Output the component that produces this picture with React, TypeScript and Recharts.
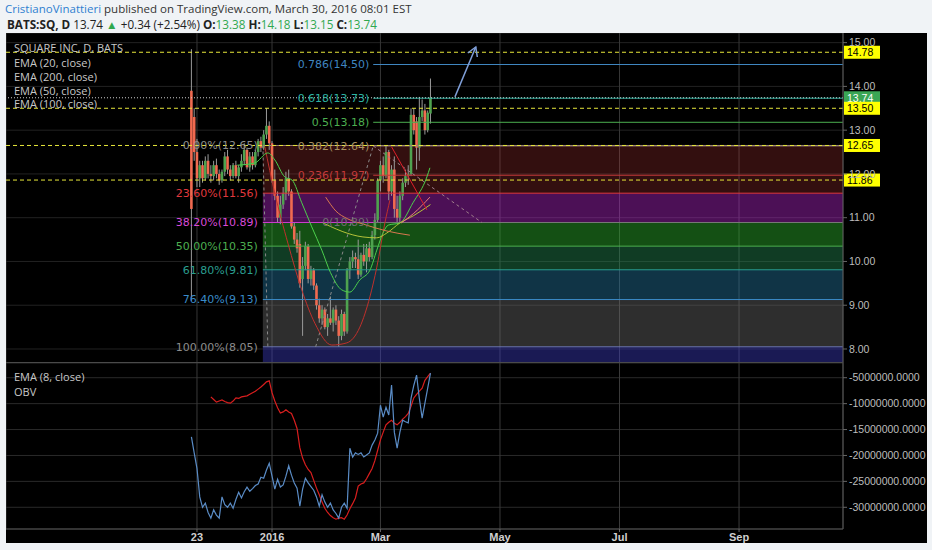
import React from 'react';
import { ComposedChart, Bar, Line, XAxis, YAxis, CartesianGrid, ReferenceLine, ReferenceArea } from 'recharts';

// x axis runs in trading days, 0 = first bar (Nov 19 2015); future days are kept empty
const X_MIN = -66.7;
const X_MAX = 234.4;
const dateTicks = [2, 29, 68, 111, 154, 197];
const dateLabels = ['23', '2016', 'Mar', 'May', 'Jul', 'Sep'];

const priceTicks = [8, 9, 10, 11, 12, 13, 14, 15];
const obvTicks = [-5e6, -10e6, -15e6, -20e6, -25e6, -30e6];

// open, high, low, close
const candles = [
  [13.9, 14.85, 9.1, 11.2], [13.3, 13.5, 12.3, 12.5], [12.5, 12.8, 11.7, 11.9], [11.9, 12.3, 11.7, 12.2],
  [12.2, 12.3, 11.8, 11.9], [11.9, 12.4, 11.85, 12.3], [12.3, 12.45, 11.9, 12.0], [12.0, 12.2, 11.8, 11.95],
  [11.95, 12.3, 11.85, 12.2], [12.2, 12.35, 11.9, 12.0], [12.0, 12.1, 11.75, 11.85], [11.85, 12.1, 11.8, 12.05],
  [12.05, 12.5, 11.95, 12.4], [12.4, 12.55, 12.0, 12.1], [12.1, 12.2, 11.85, 11.95], [11.95, 12.25, 11.9, 12.2],
  [12.2, 12.3, 11.9, 11.95], [11.95, 12.2, 11.8, 12.15], [12.15, 12.45, 12.05, 12.3], [12.3, 12.7, 12.2, 12.55],
  [12.55, 12.6, 12.1, 12.15], [12.15, 12.5, 12.05, 12.4], [12.4, 12.5, 12.1, 12.2], [12.2, 12.55, 12.15, 12.5],
  [12.5, 12.8, 12.4, 12.75], [12.75, 12.85, 12.5, 12.6], [12.6, 13.0, 12.55, 12.9], [12.9, 13.5, 12.8, 13.1],
  [13.1, 13.2, 12.55, 12.7], [12.7, 12.75, 11.8, 11.85], [11.85, 12.1, 11.4, 11.5], [11.5, 11.6, 10.9, 11.0],
  [11.0, 11.5, 10.85, 11.3], [11.3, 11.7, 11.2, 11.55], [11.55, 12.05, 11.4, 11.9], [11.9, 12.1, 11.5, 11.6],
  [11.6, 11.65, 10.75, 10.8], [10.8, 10.9, 10.4, 10.5], [10.5, 10.65, 10.2, 10.3], [10.4, 10.7, 9.4, 9.5],
  [9.6, 10.1, 8.3, 9.9], [9.9, 10.45, 9.8, 10.35], [10.35, 10.4, 9.5, 9.6], [9.6, 9.9, 9.45, 9.8],
  [9.8, 9.85, 9.35, 9.45], [9.45, 9.5, 8.9, 9.0], [9.0, 9.15, 8.6, 8.7], [8.7, 9.0, 8.55, 8.9],
  [8.9, 8.95, 8.45, 8.5], [8.5, 8.8, 8.3, 8.7], [8.7, 9.2, 8.55, 8.6], [8.6, 8.95, 8.4, 8.9],
  [8.9, 9.0, 8.55, 8.65], [8.65, 8.75, 8.05, 8.3], [8.3, 8.9, 8.2, 8.8], [8.8, 8.85, 8.3, 8.4],
  [8.4, 9.85, 8.35, 9.8], [9.8, 10.1, 9.6, 10.0], [10.0, 10.25, 9.85, 10.1], [10.1, 10.2, 9.85, 10.05],
  [10.05, 10.5, 9.6, 9.7], [9.7, 10.2, 9.65, 10.15], [10.15, 10.4, 9.9, 10.0], [10.0, 10.4, 9.75, 10.3],
  [10.3, 10.45, 10.0, 10.1], [10.1, 10.7, 10.05, 10.6], [10.6, 11.1, 10.5, 10.95], [10.95, 11.9, 10.9, 11.85],
  [11.85, 12.3, 11.6, 12.2], [12.2, 12.4, 11.8, 11.95], [11.95, 12.65, 11.9, 12.5], [12.5, 12.55, 11.4, 11.6],
  [11.6, 12.2, 11.5, 12.1], [12.1, 12.4, 11.0, 11.2], [11.2, 11.5, 10.9, 11.0], [11.0, 11.6, 10.9, 11.5],
  [11.5, 11.9, 11.4, 11.8], [11.8, 12.1, 11.7, 11.95], [11.95, 12.2, 11.75, 12.0], [12.0, 13.5, 11.95, 13.35],
  [13.35, 13.5, 12.9, 13.0], [13.2, 13.3, 12.1, 12.6], [12.6, 13.76, 12.3, 13.3], [13.3, 13.7, 13.2, 13.45],
  [13.45, 13.6, 12.9, 13.0], [13.0, 13.45, 12.95, 13.4], [13.38, 14.18, 13.15, 13.74],
];

// [trading day, value]
const ema20 = [
  [16.5, 12.2], [22.8, 12.25], [27.5, 12.48], [30, 12.32], [33.6, 11.93], [36.2, 11.86], [39.7, 11.34],
  [43.3, 10.79], [46.9, 10.26], [50, 9.75], [54.1, 9.35], [57, 9.3], [60.6, 9.58], [64.2, 9.8],
  [66.7, 10.26], [68.9, 10.65], [70.8, 10.83], [75, 10.88], [79.7, 11.34], [84.7, 11.93], [85.8, 12.14],
];
const ema50 = [
  [47.3, 10.88], [50, 10.8], [54.5, 10.68], [61.7, 10.56], [66.7, 10.54], [70.3, 10.65], [75, 10.88],
  [80, 11.05], [86, 11.3],
];
const ema100 = [[75.5, 10.88], [80, 11.1], [85.8, 11.47]];
const salmonLine = [[48.3, 11.47], [52, 11.15], [56, 10.98], [62, 10.85], [70, 10.7], [78.6, 10.6]];
const redTrend = [[72, 12.62], [84.7, 11.18]];
const cupCurve = [
  [26.4, 12.62], [30, 11.56], [34.7, 10.42], [39.7, 9.35], [44.4, 8.59], [50.5, 8.09], [55.9, 8.14],
  [60.6, 8.5], [64.2, 9.19], [66.7, 9.87], [69.6, 10.88], [71.4, 11.4],
];
const retraceTrend = [[25.7, 12.65], [27.5, 8.05]];
const extTrendAB = [[44.7, 8.05], [65.4, 12.64]];
const extTrendBC = [[65.4, 12.64], [104.5, 10.89]];
const arrowPath = [[94.8, 13.76], [102.3, 14.9]];

const RETRACE_START = 25.7;
const retraceLevels = [12.65, 11.56, 10.89, 10.35, 9.81, 9.13, 8.05];
const retraceNames = ['0.00%', '23.60%', '38.20%', '50.00%', '61.80%', '76.40%', '100.00%'];
const retraceLine = ['#9c7b7b', '#e0393e', '#c83ec8', '#4caf50', '#2a9d8f', '#3a8bc8', '#6f79b0'];
const retraceText = ['#8c8c8c', '#e0393e', '#d94ad9', '#4caf50', '#2a9d8f', '#3a8bc8', '#8c8c8c'];
const retraceFill = [
  'rgba(190,55,55,0.27)', 'rgba(190,40,215,0.4)', 'rgba(50,200,50,0.4)', 'rgba(40,150,90,0.4)',
  'rgba(40,130,175,0.4)', 'rgba(120,120,120,0.38)', 'rgba(65,65,210,0.4)',
];

const EXT_START = 65.4;
const extLevels = [10.89, 11.97, 12.64, 13.18, 13.73, 14.5];
const extNames = ['0', '0.236', '0.382', '0.5', '0.618', '0.786'];
const extLine = ['#777777', '#c23a3a', '#9b8a7b', '#4caf50', '#2fb3a3', '#3f86c0'];
const extText = ['#6f6f6f', '#c23a3a', '#a89060', '#4caf50', '#2fb3a3', '#3f86c0'];

const markedLevels = [14.78, 13.5, 12.65, 11.86];
const lastClose = 13.74;

// millions
const obv = [
  -16.4, -19.5, -22.5, -28.0, -30.0, -29.2, -31.0, -32.1, -30.5, -31.5, -32.1, -28.0, -29.5, -30.0, -29.2,
  -30.2, -28.5, -27.1, -28.2, -27.0, -26.1, -26.9, -26.4, -25.8, -25.5, -24.2, -24.4, -22.8, -21.5, -24.0,
  -26.5, -24.6, -26.1, -25.7, -24.0, -22.0, -23.8, -25.3, -26.3, -29.8, -26.5, -24.4, -25.3, -26.0, -26.7,
  -28.0, -29.8, -27.6, -29.0, -30.0, -29.2, -30.5, -31.2, -32.1, -30.0, -29.2, -30.2, -18.6, -20.3, -19.5,
  -19.8, -19.5, -20.3, -19.9, -19.5, -18.0, -17.0, -15.7, -10.3, -12.6, -10.7, -12.2, -6.4, -15.5, -18.6,
  -15.5, -13.2, -13.5, -13.7, -9.0, -6.5, -4.5, -9.0, -12.8, -9.9, -7.0, -4.1,
];
const OBV_EMA_START = 7;
const obvEma = [
  -8.7, -9.2, -9.7, -9.5, -9.3, -9.6, -9.8, -9.9, -9.5, -8.9, -9.0, -8.7, -8.6, -8.5, -8.2, -7.9, -7.6,
  -7.2, -6.8, -6.3, -5.8, -5.6, -7.9, -9.5, -10.8, -11.8, -11.6, -11.2, -11.6, -11.9, -13.2, -14.8, -18.5,
  -20.5, -21.8, -22.7, -23.3, -24.8, -26.3, -27.6, -29.0, -30.2, -31.0, -31.6, -32.0, -32.3, -32.1, -32.0,
  -32.3, -31.5, -30.3, -29.3, -28.2, -25.9, -25.5, -25.3, -24.5, -23.5, -22.5, -21.0, -19.0, -17.0, -15.5,
  -14.1, -13.6, -13.2, -13.8, -14.1, -13.6, -13.0, -12.5, -11.9, -10.5, -8.9, -8.2, -7.6, -7.0, -5.5,
  -4.8, -4.1,
];

const candleRows = candles.map(([o, h, l, c], i) => ({ i, o, h, l, c, range: [l, h] }));
const pts = (arr: number[][]) => arr.map(([i, v]) => ({ i, v }));
const obvRows = obv.map((v, i) => ({
  i,
  obv: v * 1e6,
  ema: i >= OBV_EMA_START && obvEma[i - OBV_EMA_START] != null ? obvEma[i - OBV_EMA_START] * 1e6 : null,
}));

const AXIS_FONT = '"Liberation Sans", Arial, sans-serif';
const FIB_FONT = '"DejaVu Sans", sans-serif';

function Candle(props: any) {
  const { x, y, width, height, payload } = props;
  const { o, h, l, c } = payload;
  if (h === l || height == null) return null;
  const top = Math.min(y, y + height);
  const bottom = Math.max(y, y + height);
  const k = (bottom - top) / (h - l);
  const cx = x + width / 2;
  const yo = top + (h - o) * k;
  const yc = top + (h - c) * k;
  const up = c >= o;
  return (
    <g>
      <line x1={cx} x2={cx} y1={top} y2={bottom} stroke="#9a9a9a" strokeWidth={1} />
      <rect x={cx - 1.3} y={Math.min(yo, yc)} width={2.6} height={Math.max(1, Math.abs(yc - yo))} fill={up ? '#4fa24f' : '#f06a50'} />
    </g>
  );
}

function PriceTag(props: any) {
  const { viewBox, text, bg, fg } = props;
  if (!viewBox) return null;
  const x = viewBox.x + viewBox.width;
  const y = viewBox.y;
  return (
    <g>
      <rect x={x + 1} y={y - 6.5} width={36} height={13} fill={bg} />
      <text x={x + 4} y={y + 4} fill={fg} fontSize={10.5} fontFamily={AXIS_FONT}>{text}</text>
    </g>
  );
}

function ArrowHead(props: any) {
  const { cx, cy, index } = props;
  if (index !== 1) return <g key={`a${index}`} />;
  return <path key="head" d={`M${cx - 8},${cy + 6} L${cx},${cy} L${cx + 1.5},${cy + 10}`} stroke="#7f9fd8" strokeWidth={1.5} fill="none" />;
}

function PricePane() {
  return (
    <ComposedChart width={921} height={330} data={candleRows} margin={{ top: 0, right: 0, bottom: 0, left: 0 }}>
      <CartesianGrid stroke="#222" vertical={false} />
      <CartesianGrid stroke="#363636" horizontal={false} />
      <XAxis dataKey="i" type="number" domain={[X_MIN, X_MAX]} allowDataOverflow ticks={dateTicks} hide />
      <YAxis
        orientation="right"
        width={84}
        domain={[7.68, 15.22]}
        allowDataOverflow
        ticks={priceTicks}
        tickFormatter={(v: number) => v.toFixed(2)}
        tick={{ fill: '#bdbdbd', fontSize: 10.5, fontFamily: AXIS_FONT, textAnchor: 'start' }}
        axisLine={{ stroke: '#555' }}
        tickLine={{ stroke: '#666' }}
        tickSize={4}
        tickMargin={2}
      />
      {retraceLevels.map((lvl, k) => (
        <ReferenceArea
          key={`ra${k}`}
          x1={RETRACE_START}
          x2={X_MAX}
          y1={lvl}
          y2={k + 1 < retraceLevels.length ? retraceLevels[k + 1] : 7.68}
          fill={retraceFill[k]}
          fillOpacity={1}
          stroke="none"
        />
      ))}
      {retraceLevels.map((lvl, k) => (
        <ReferenceLine
          key={`rl${k}`}
          segment={[{ x: RETRACE_START, y: lvl }, { x: X_MAX, y: lvl }]}
          stroke={retraceLine[k]}
          label={{ value: `${retraceNames[k]}(${lvl.toFixed(2)})`, position: 'left', fill: retraceText[k], fontSize: 11, fontFamily: FIB_FONT, offset: 5 }}
        />
      ))}
      {extLevels.map((lvl, k) => (
        <ReferenceLine
          key={`el${k}`}
          segment={[{ x: EXT_START, y: lvl }, { x: X_MAX, y: lvl }]}
          stroke={extLine[k]}
          label={{ value: `${extNames[k]}(${lvl.toFixed(2)})`, position: 'left', fill: extText[k], fontSize: 11, fontFamily: FIB_FONT, offset: 4 }}
        />
      ))}
      <Line data={pts(retraceTrend)} dataKey="v" stroke="#8a8a8a" strokeDasharray="3 3" dot={false} isAnimationActive={false} />
      <Line data={pts(extTrendAB)} dataKey="v" stroke="#8a8a8a" strokeDasharray="3 3" dot={false} isAnimationActive={false} />
      <Line data={pts(extTrendBC)} dataKey="v" stroke="#a07f8c" strokeDasharray="3 3" dot={false} isAnimationActive={false} />
      <Line data={pts(cupCurve)} dataKey="v" type="monotone" stroke="#c0302c" dot={false} isAnimationActive={false} />
      <Bar dataKey="range" barSize={3} isAnimationActive={false} shape={(p: any) => <Candle {...p} />} />
      <Line data={pts(ema20)} dataKey="v" type="monotone" stroke="#4cd04c" dot={false} isAnimationActive={false} />
      <Line data={pts(ema50)} dataKey="v" type="monotone" stroke="#b5c23a" dot={false} isAnimationActive={false} />
      <Line data={pts(ema100)} dataKey="v" type="monotone" stroke="#e8807a" dot={false} isAnimationActive={false} />
      <Line data={pts(salmonLine)} dataKey="v" type="monotone" stroke="#d9784f" dot={false} isAnimationActive={false} />
      <Line data={pts(redTrend)} dataKey="v" stroke="#e0202a" dot={false} isAnimationActive={false} />
      <Line data={pts(arrowPath)} dataKey="v" stroke="#7f9fd8" strokeWidth={1.5} dot={(p: any) => <ArrowHead {...p} />} isAnimationActive={false} />
      <ReferenceLine
        y={lastClose}
        stroke="#cfcfcf"
        strokeDasharray="1 2"
        label={<PriceTag text={lastClose.toFixed(2)} bg="#3aa655" fg="#ffffff" />}
      />
      {markedLevels.map((lvl) => (
        <ReferenceLine
          key={`m${lvl}`}
          y={lvl}
          stroke="#e6e63a"
          strokeDasharray="4 3"
          label={<PriceTag text={lvl.toFixed(2)} bg="#ffff00" fg="#000000" />}
        />
      ))}
    </ComposedChart>
  );
}

function ObvPane() {
  return (
    <ComposedChart width={921} height={180} data={obvRows} margin={{ top: 0, right: 0, bottom: 0, left: 0 }}>
      <CartesianGrid stroke="#2a2a2a" vertical={false} />
      <CartesianGrid stroke="#3a3a3a" horizontal={false} />
      <XAxis
        dataKey="i"
        type="number"
        domain={[X_MIN, X_MAX]}
        allowDataOverflow
        ticks={dateTicks}
        height={14}
        tickFormatter={(v: number) => dateLabels[dateTicks.indexOf(v)] ?? ''}
        tick={{ fill: '#cfcfcf', fontSize: 11, fontWeight: 'bold', fontFamily: AXIS_FONT }}
        axisLine={{ stroke: '#555' }}
        tickLine={{ stroke: '#666' }}
        tickSize={3}
        tickMargin={1}
      />
      <YAxis
        orientation="right"
        width={84}
        domain={[-34.19e6, -2.16e6]}
        allowDataOverflow
        ticks={obvTicks}
        tickFormatter={(v: number) => v.toFixed(4)}
        tick={{ fill: '#bdbdbd', fontSize: 10.5, fontFamily: AXIS_FONT, textAnchor: 'start' }}
        axisLine={{ stroke: '#555' }}
        tickLine={{ stroke: '#666' }}
        tickSize={4}
        tickMargin={2}
      />
      <Line dataKey="ema" stroke="#d81e1e" strokeWidth={1.2} dot={false} connectNulls isAnimationActive={false} />
      <Line dataKey="obv" stroke="#5a8cc6" strokeWidth={1.2} dot={false} isAnimationActive={false} />
    </ComposedChart>
  );
}

const legendStyle: React.CSSProperties = {
  position: 'absolute',
  left: 14,
  fontSize: 11,
  lineHeight: '14px',
  color: '#c8c8c8',
  fontFamily: '"Open Sans", sans-serif',
  whiteSpace: 'nowrap',
  pointerEvents: 'none',
};

export default function App() {
  const green = '#2fa84f';
  return (
    <div style={{ position: 'fixed', left: 0, top: 0, width: 932, height: 550, background: '#f0f3f6', overflow: 'hidden', fontFamily: '"Open Sans", sans-serif' }}>
      <div style={{ position: 'absolute', left: 5, top: 1, fontSize: 11.5, lineHeight: '16px', color: '#333', whiteSpace: 'nowrap' }}>
        <span style={{ color: '#2f7fd0' }}>CristianoVinattieri</span> published on TradingView.com, March 30, 2016 08:01 EST
      </div>
      <div style={{ position: 'absolute', left: 7, top: 16, fontSize: 11.7, lineHeight: '16px', color: '#222', whiteSpace: 'nowrap' }}>
        <b>BATS:SQ, D</b> 13.74 <span style={{ color: green }}>▲</span> +0.34 (+2.54%) <b>O:</b><span style={{ color: green }}>13.38</span>{' '}
        <b>H:</b><span style={{ color: green }}>14.18</span> <b>L:</b><span style={{ color: green }}>13.15</span>{' '}
        <b>C:</b><span style={{ color: green }}>13.74</span>
      </div>
      <div style={{ position: 'absolute', left: 6, top: 33, width: 921, height: 510, background: '#000' }} />
      <div style={{ position: 'absolute', left: 6, top: 33 }}>
        <PricePane />
      </div>
      <div style={{ position: 'absolute', left: 6, top: 362, width: 837, height: 1, background: '#4a4a4a' }} />
      <div style={{ position: 'absolute', left: 6, top: 363 }}>
        <ObvPane />
      </div>
      <div style={{ ...legendStyle, top: 41 }}>SQUARE INC, D, BATS</div>
      <div style={{ ...legendStyle, top: 56 }}>EMA (20, close)</div>
      <div style={{ ...legendStyle, top: 70 }}>EMA (200, close)</div>
      <div style={{ ...legendStyle, top: 84 }}>EMA (50, close)</div>
      <div style={{ ...legendStyle, top: 97 }}>EMA (100, close)</div>
      <div style={{ ...legendStyle, top: 370 }}>EMA (8, close)</div>
      <div style={{ ...legendStyle, top: 385 }}>OBV</div>
    </div>
  );
}
